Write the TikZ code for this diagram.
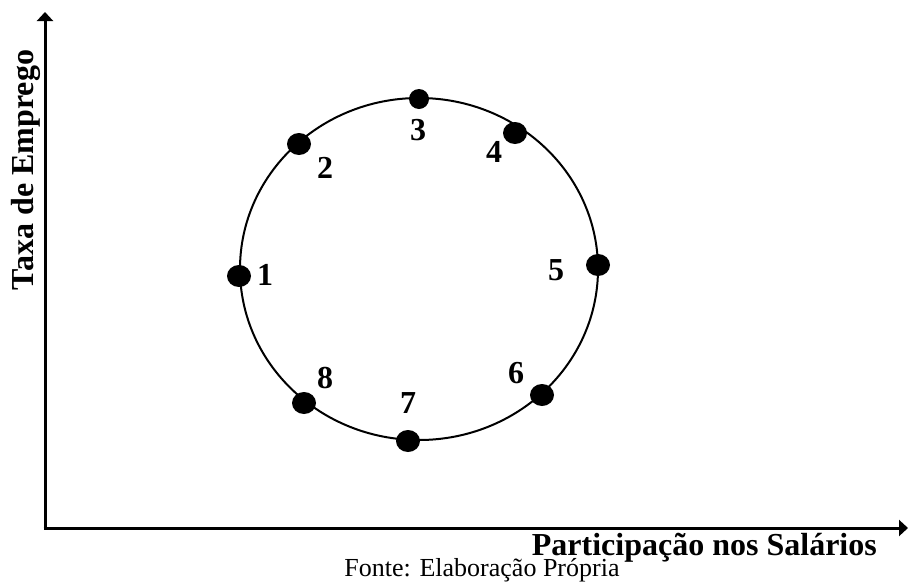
\documentclass[tikz,border=0pt]{standalone}
\usepackage{fontspec}
\setmainfont{Liberation Serif}
\usetikzlibrary{arrows.meta,shapes.geometric}
\tikzset{
  dot/.style={ellipse,fill=black,inner sep=0pt,minimum width=24pt,minimum height=22pt},
  lbl/.style={font=\fontsize{32}{36}\selectfont\bfseries,inner sep=0pt},
  axis/.style={line width=3pt,-{Triangle[length=9pt,width=16pt]}},
}
\begin{document}
\begin{tikzpicture}[x=1pt,y=-1pt]
\useasboundingbox (0,0) rectangle (908,582);
\coordinate (o) at (45,528);
\coordinate (ytop) at (45,12);
\coordinate (xend) at (908,528);
\draw[axis] ([yshift=-1.5pt]o) -- (ytop);
\draw[axis] ([xshift=-1.5pt]o) -- (xend);
\draw[line width=2pt] (419,269) ellipse [x radius=179, y radius=171];
\node[dot] (d1) at (239,276) {};
\node[dot] (d2) at (299,144) {};
\node[dot,minimum width=20pt,minimum height=20pt] (d3) at (419,99) {};
\node[dot] (d4) at (515,133) {};
\node[dot] (d5) at (598,265) {};
\node[dot] (d6) at (542,395) {};
\node[dot] (d7) at (408,441) {};
\node[dot] (d8) at (304,403) {};
\node[lbl] (l1) at (265,275) {1};
\node[lbl] (l2) at (325,168) {2};
\node[lbl] (l3) at (418,130) {3};
\node[lbl] (l4) at (494,152) {4};
\node[lbl] (l5) at (556,270) {5};
\node[lbl] (l6) at (516,373) {6};
\node[lbl] (l7) at (408,403) {7};
\node[lbl] (l8) at (325,378) {8};
\node[lbl,rotate=90,anchor=base] (ylab) at (34,170) {Taxa de Emprego};
\node[lbl,anchor=base east] (xlab) at (877,555) {Participação nos Salários};
\node[font=\fontsize{26}{30}\selectfont,inner sep=0pt,anchor=base] (src) at (482,576) {Fonte: Elaboração Própria};
\end{tikzpicture}
\end{document}
